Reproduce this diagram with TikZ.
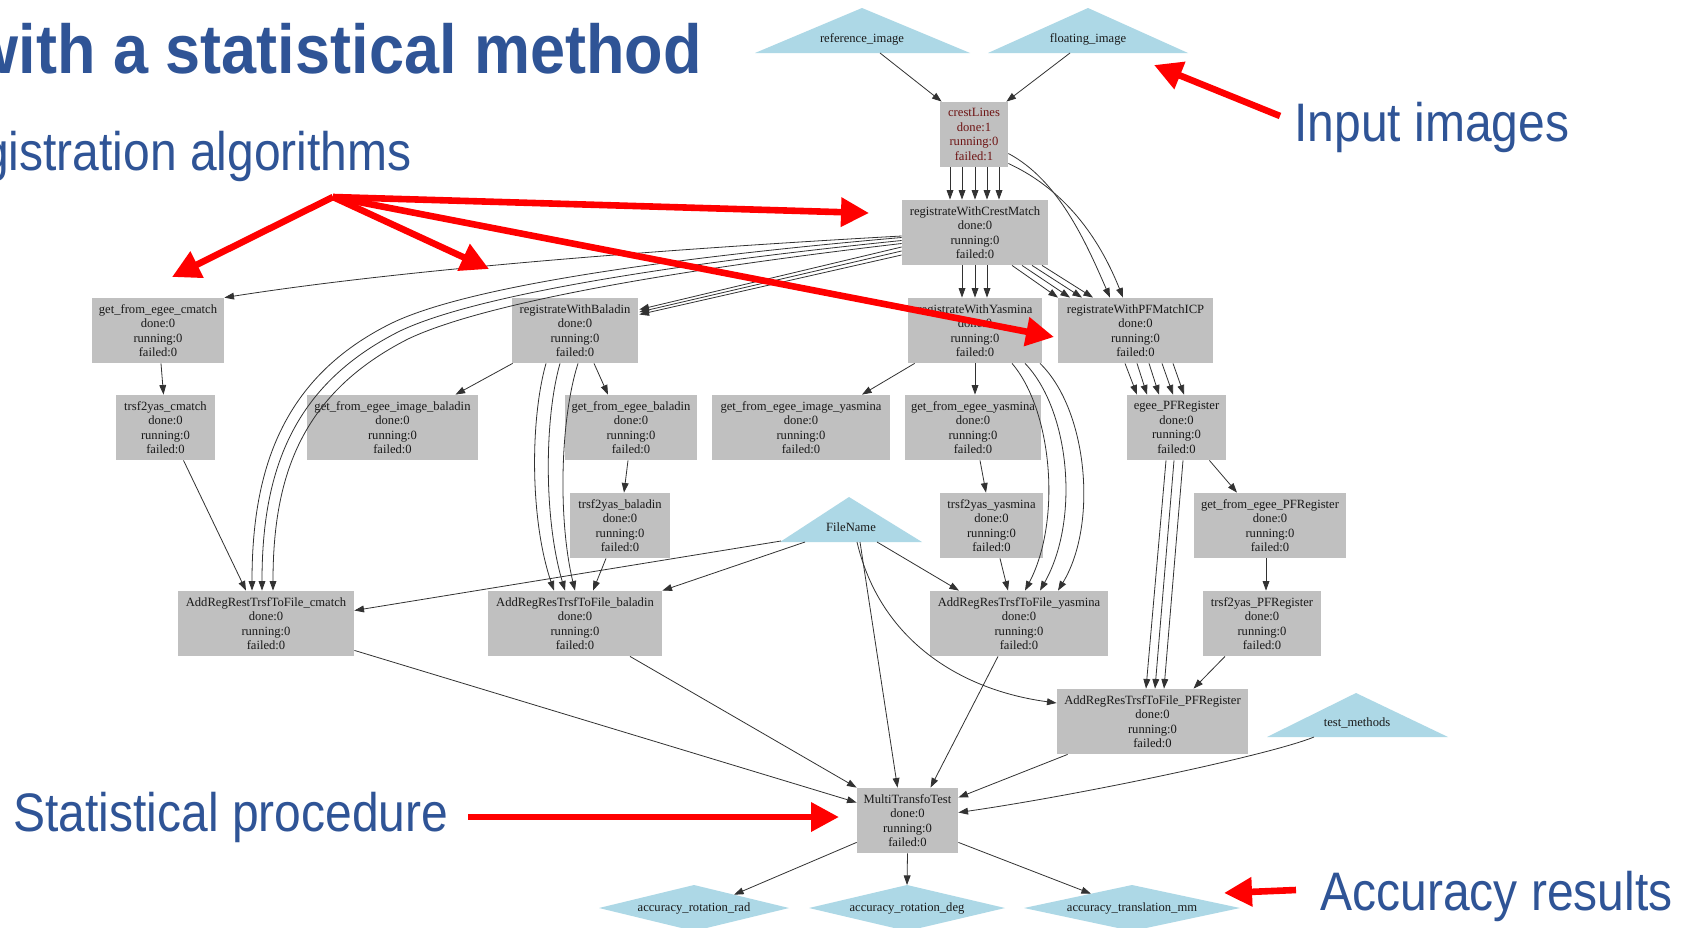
\documentclass[tikz,border=0pt]{standalone}
\usepackage{fontspec}
\setmainfont{Liberation Serif}
\newfontfamily\labelfont{Liberation Sans}
\usetikzlibrary{arrows.meta,calc}
\definecolor{slideblue}{RGB}{47,84,150}
\definecolor{jobgray}{RGB}{192,192,192}
\definecolor{datablue}{RGB}{173,216,230}
\definecolor{crestred}{RGB}{110,20,20}
\definecolor{edgecol}{RGB}{50,50,50}
\tikzset{
  jobbox/.style={fill=jobgray, inner sep=0pt, align=center, font=\fontsize{6.3}{7.25}\selectfont, text=black!90},
  datatext/.style={inner sep=0pt, font=\fontsize{6.3}{7.25}\selectfont, text=black!90},
  dep/.style={draw=edgecol, line width=0.4pt, -{Triangle[length=4.8pt,width=3.4pt]}},
  callout/.style={draw=red, line width=3.3pt, -{Triangle[length=14pt,width=14pt]}},
  slidelabel/.style={inner sep=0pt, text=slideblue, font=\labelfont\fontsize{24}{28}\selectfont},
}
\newcommand{\job}[6]{\node[jobbox, minimum width={(#4-#2)*0.5pt}, minimum height={(#5-#3)*0.5pt}] (#1) at ({(#2+#4)/2},{(#3+#5)/2}) {#6\\done:0\\running:0\\failed:0};}
\begin{document}
\begin{tikzpicture}[x=0.5pt,y=-0.5pt]
\useasboundingbox (0,0) rectangle (1686,927);
\fill[white] (0,0) rectangle (1686,927);

% ---- data (triangles / diamonds)
\fill[datablue] (755,53) -- (862,8) -- (970,53) -- cycle;
\node[datatext] (refimg) at (862,39) {reference\_image};
\fill[datablue] (988,53) -- (1088,8) -- (1188,53) -- cycle;
\node[datatext] (floatimg) at (1088,39) {floating\_image};
\fill[datablue] (780,542) -- (849,497) -- (922,542) -- cycle;
\node[datatext] (fn) at (851,527) {FileName};
\fill[datablue] (1267,737) -- (1356,693) -- (1448,737) -- cycle;
\node[datatext] (tm) at (1357,723) {test\_methods};
\fill[datablue] (599,908) -- (694,885) -- (789,908) -- (694,931) -- cycle;
\node[datatext] (accrad) at (694,908) {accuracy\_rotation\_rad};
\fill[datablue] (809,908) -- (907,885) -- (1005,908) -- (907,931) -- cycle;
\node[datatext] (accdeg) at (907,908) {accuracy\_rotation\_deg};
\fill[datablue] (1024,908) -- (1132,885) -- (1240,908) -- (1132,931) -- cycle;
\node[datatext] (accmm) at (1132,908) {accuracy\_translation\_mm};

% ---- jobs
\node[jobbox, text=crestred, minimum width=34pt, minimum height=32.5pt] (cl) at (974,134.5) {crestLines\\done:1\\running:0\\failed:1};
\job{cm}{902}{200}{1048}{265}{registrateWithCrestMatch}
\job{ry}{908}{298}{1042}{363}{registrateWithYasmina}
\job{rp}{1058}{298}{1213}{363}{registrateWithPFMatchICP}
\job{gc}{92}{298}{224}{363}{get\_from\_egee\_cmatch}
\job{rb}{512}{298}{638}{363}{registrateWithBaladin}
\job{tc}{116}{395}{215}{460}{trsf2yas\_cmatch}
\job{gib}{307}{395}{478}{460}{get\_from\_egee\_image\_baladin}
\job{gb}{565}{395}{697}{460}{get\_from\_egee\_baladin}
\job{giy}{712}{395}{890}{460}{get\_from\_egee\_image\_yasmina}
\job{gy}{905}{395}{1041}{460}{get\_from\_egee\_yasmina}
\job{ep}{1127}{395}{1226}{460}{egee\_PFRegister}
\job{tb}{570}{493}{670}{558}{trsf2yas\_baladin}
\job{ty}{940}{493}{1043}{558}{trsf2yas\_yasmina}
\job{gp}{1194}{493}{1346}{558}{get\_from\_egee\_PFRegister}
\job{ac}{178}{591}{354}{656}{AddRegRestTrsfToFile\_cmatch}
\job{ab}{488}{591}{662}{656}{AddRegResTrsfToFile\_baladin}
\job{ay}{930}{591}{1108}{656}{AddRegResTrsfToFile\_yasmina}
\job{tp}{1203}{591}{1321}{656}{trsf2yas\_PFRegister}
\job{ap}{1057}{689}{1248}{754}{AddRegResTrsfToFile\_PFRegister}
\job{mt}{857}{788}{958}{853}{MultiTransfoTest}

% ---- dependencies
\draw[dep] ([shift={(18,14)}]refimg.center) -- ([shift={(2,0)}]cl.north west);
\draw[dep] ([shift={(-18,14)}]floatimg.center) -- ([shift={(-2,0)}]cl.north east);
\foreach \a/\b in {-24/-25,-12/-13,1/0,13/12,25/24}
  \draw[dep] ([shift={(\a,0)}]cl.south) -- ([shift={(\b,0)}]cm.north);
\draw[dep] ([shift={(0,19)}]cl.east) .. controls (1058,180) and (1085,240) .. ([shift={(-25.5,0)}]rp.north);
\draw[dep] ([shift={(0,29)}]cl.east) .. controls (1070,192) and (1102,245) .. ([shift={(-12.5,0)}]rp.north);
\foreach \a/\b in {37/-77.5,47/-65.5,57/-53.5,67/-42.5}
  \draw[dep] ([shift={(\a,0)}]cm.south) -- ([shift={(\b,0)}]rp.north);
\foreach \a in {-13,0,12}
  \draw[dep] ([shift={(\a,0)}]cm.south) -- ([shift={(\a,0)}]ry.north);
\draw[dep] ([shift={(0,3.5)}]cm.west) .. controls (650,250) and (400,270) .. (gc.north east);
\draw[dep] ([shift={(0,5)}]cm.west) .. controls (700,255) and (475,283) .. (392,323) .. controls (282,377) and (252,470) .. ([shift={(-14,0)}]ac.north);
\draw[dep] ([shift={(0,8)}]cm.west) .. controls (700,261) and (482,292) .. (400,331) .. controls (292,385) and (262,472) .. ([shift={(-4,0)}]ac.north);
\draw[dep] ([shift={(0,11)}]cm.west) .. controls (700,267) and (490,300) .. (408,339) .. controls (302,393) and (273,475) .. ([shift={(7,0)}]ac.north);
\foreach \a/\b in {14.5/-21,18.5/-18.5,22.5/-16}
  \draw[dep] ([shift={(0,\a)}]cm.west) -- ([shift={(1,\b)}]rb.east);
\draw[dep] ([shift={(3,0)}]gc.south) -- ([shift={(-2,0)}]tc.north);
\draw[dep] ([shift={(18,0)}]tc.south) -- ([shift={(-20,0)}]ac.north);
\draw[dep] ([shift={(1,0)}]rb.south west) -- ([shift={(63,0)}]gib.north);
\draw[dep] ([shift={(19,0)}]rb.south) -- ([shift={(-23,0)}]gb.north);
\draw[dep] ([shift={(-29,0)}]rb.south) .. controls (530,420) and (530,520) .. ([shift={(-21,0)}]ab.north);
\draw[dep] ([shift={(-15,0)}]rb.south) .. controls (544,420) and (544,520) .. ([shift={(-10,0)}]ab.north);
\draw[dep] ([shift={(3,0)}]rb.south) .. controls (560,420) and (558,520) .. (ab.north);
\draw[dep] ([shift={(-3,0)}]gb.south) -- ([shift={(4,0)}]tb.north);
\draw[dep] ([shift={(-14,0)}]tb.south) -- ([shift={(18,0)}]ab.north);
\draw[dep] ([shift={(-70,14)}]fn.center) -- ([shift={(0,-13)}]ac.east);
\draw[dep] ([shift={(-46,15)}]fn.center) -- (ab.north east);
\draw[dep] ([shift={(26,15)}]fn.center) -- ([shift={(-60,0)}]ay.north);
\draw[dep] ([shift={(9,15)}]fn.center) -- ([shift={(-10,0)}]mt.north);
\draw[dep] ([shift={(6,15)}]fn.center) .. controls (880,640) and (960,690) .. ([shift={(0,-18.5)}]ap.west);
\draw[dep] ([shift={(7,0)}]ry.south west) -- ([shift={(61,0)}]giy.north);
\draw[dep] (ry.south) -- ([shift={(2,0)}]gy.north);
\draw[dep] ([shift={(37,0)}]ry.south) .. controls (1052,410) and (1062,520) .. ([shift={(6,0)}]ay.north);
\draw[dep] ([shift={(50,0)}]ry.south) .. controls (1070,410) and (1080,520) .. ([shift={(21,0)}]ay.north);
\draw[dep] ([shift={(65,0)}]ry.south) .. controls (1088,410) and (1098,525) .. ([shift={(39,0)}]ay.north);
\draw[dep] ([shift={(7,0)}]gy.south) -- ([shift={(-5.5,0)}]ty.north);
\draw[dep] ([shift={(8.5,0)}]ty.south) -- ([shift={(-11,0)}]ay.north);
\foreach \a/\b in {-10.5/-39.5,1.5/-29.5,13.5/-17.5,26.5/-3.5,37.5/7.5}
  \draw[dep] ([shift={(\a,0)}]rp.south) -- ([shift={(\b,0)}]ep.north);
\foreach \a/\b in {-10.5/-6.5,-2.5/2.5,6.5/11.5}
  \draw[dep] ([shift={(\a,0)}]ep.south) -- ([shift={(\b,0)}]ap.north);
\draw[dep] ([shift={(-17,0)}]ep.south east) -- ([shift={(-33,0)}]gp.north);
\draw[dep] ([shift={(-4,0)}]gp.south) -- ([shift={(4,0)}]tp.north);
\draw[dep] ([shift={(-37,0)}]tp.south) -- ([shift={(41,0)}]ap.north);
\draw[dep] ([shift={(0,-6)}]ac.south east) -- ([shift={(0,-18)}]mt.west);
\draw[dep] ([shift={(55,0)}]ab.south) -- (mt.north west);
\draw[dep] ([shift={(-21,0)}]ay.south) -- ([shift={(23,0)}]mt.north);
\draw[dep] ([shift={(11,0)}]ap.south west) -- ([shift={(0,-23)}]mt.east);
\draw[dep] ([shift={(-43,14)}]tm.center) .. controls (1270,755) and (1080,795) .. ([shift={(0,-8)}]mt.east);
\draw[dep] ([shift={(0,-11)}]mt.south west) -- ([shift={(40,-13.3)}]accrad.center);
\draw[dep] (mt.south) -- ([shift={(0,-23)}]accdeg.center);
\draw[dep] ([shift={(0,-11)}]mt.south east) -- ([shift={(-41,-14.3)}]accmm.center);

% ---- slide texts
\node[inner sep=0pt, anchor=base east, text=slideblue, font=\labelfont\bfseries\fontsize{31.5}{35}\selectfont] (title) at (702,73) {\scalebox{1}[1.1]{with a statistical method}};
\node[slidelabel, anchor=base east] (reglbl) at (412,170) {\scalebox{1}[1.13]{registration algorithms}};
\node[slidelabel, anchor=base west] (inlbl) at (1294,141) {\scalebox{1}[1.13]{Input images}};
\node[slidelabel, anchor=base west] (statlbl) at (13,831) {\scalebox{1}[1.13]{Statistical procedure}};
\node[slidelabel, anchor=base west] (acclbl) at (1320,910) {\scalebox{1}[1.13]{Accuracy results}};

% ---- red callouts
\coordinate (inA) at (1280,116);
\coordinate (inB) at (1154,65);
\coordinate (hub) at (333,197);
\coordinate (tipGC) at (172,277);
\coordinate (tipRB) at (489,269);
\coordinate (tipCM) at (869,213);
\coordinate (tipRP) at (1054,337);
\coordinate (stA) at (468,817);
\coordinate (stB) at (839,817);
\coordinate (acA) at (1296,890);
\coordinate (acB) at (1224,893);
\draw[callout] (inA) -- (inB);
\draw[callout] (hub) -- (tipGC);
\draw[callout] (hub) -- (tipRB);
\draw[callout] (hub) -- (tipCM);
\draw[callout] (hub) -- (tipRP);
\draw[callout] (stA) -- (stB);
\draw[callout] (acA) -- (acB);
\end{tikzpicture}
\end{document}
